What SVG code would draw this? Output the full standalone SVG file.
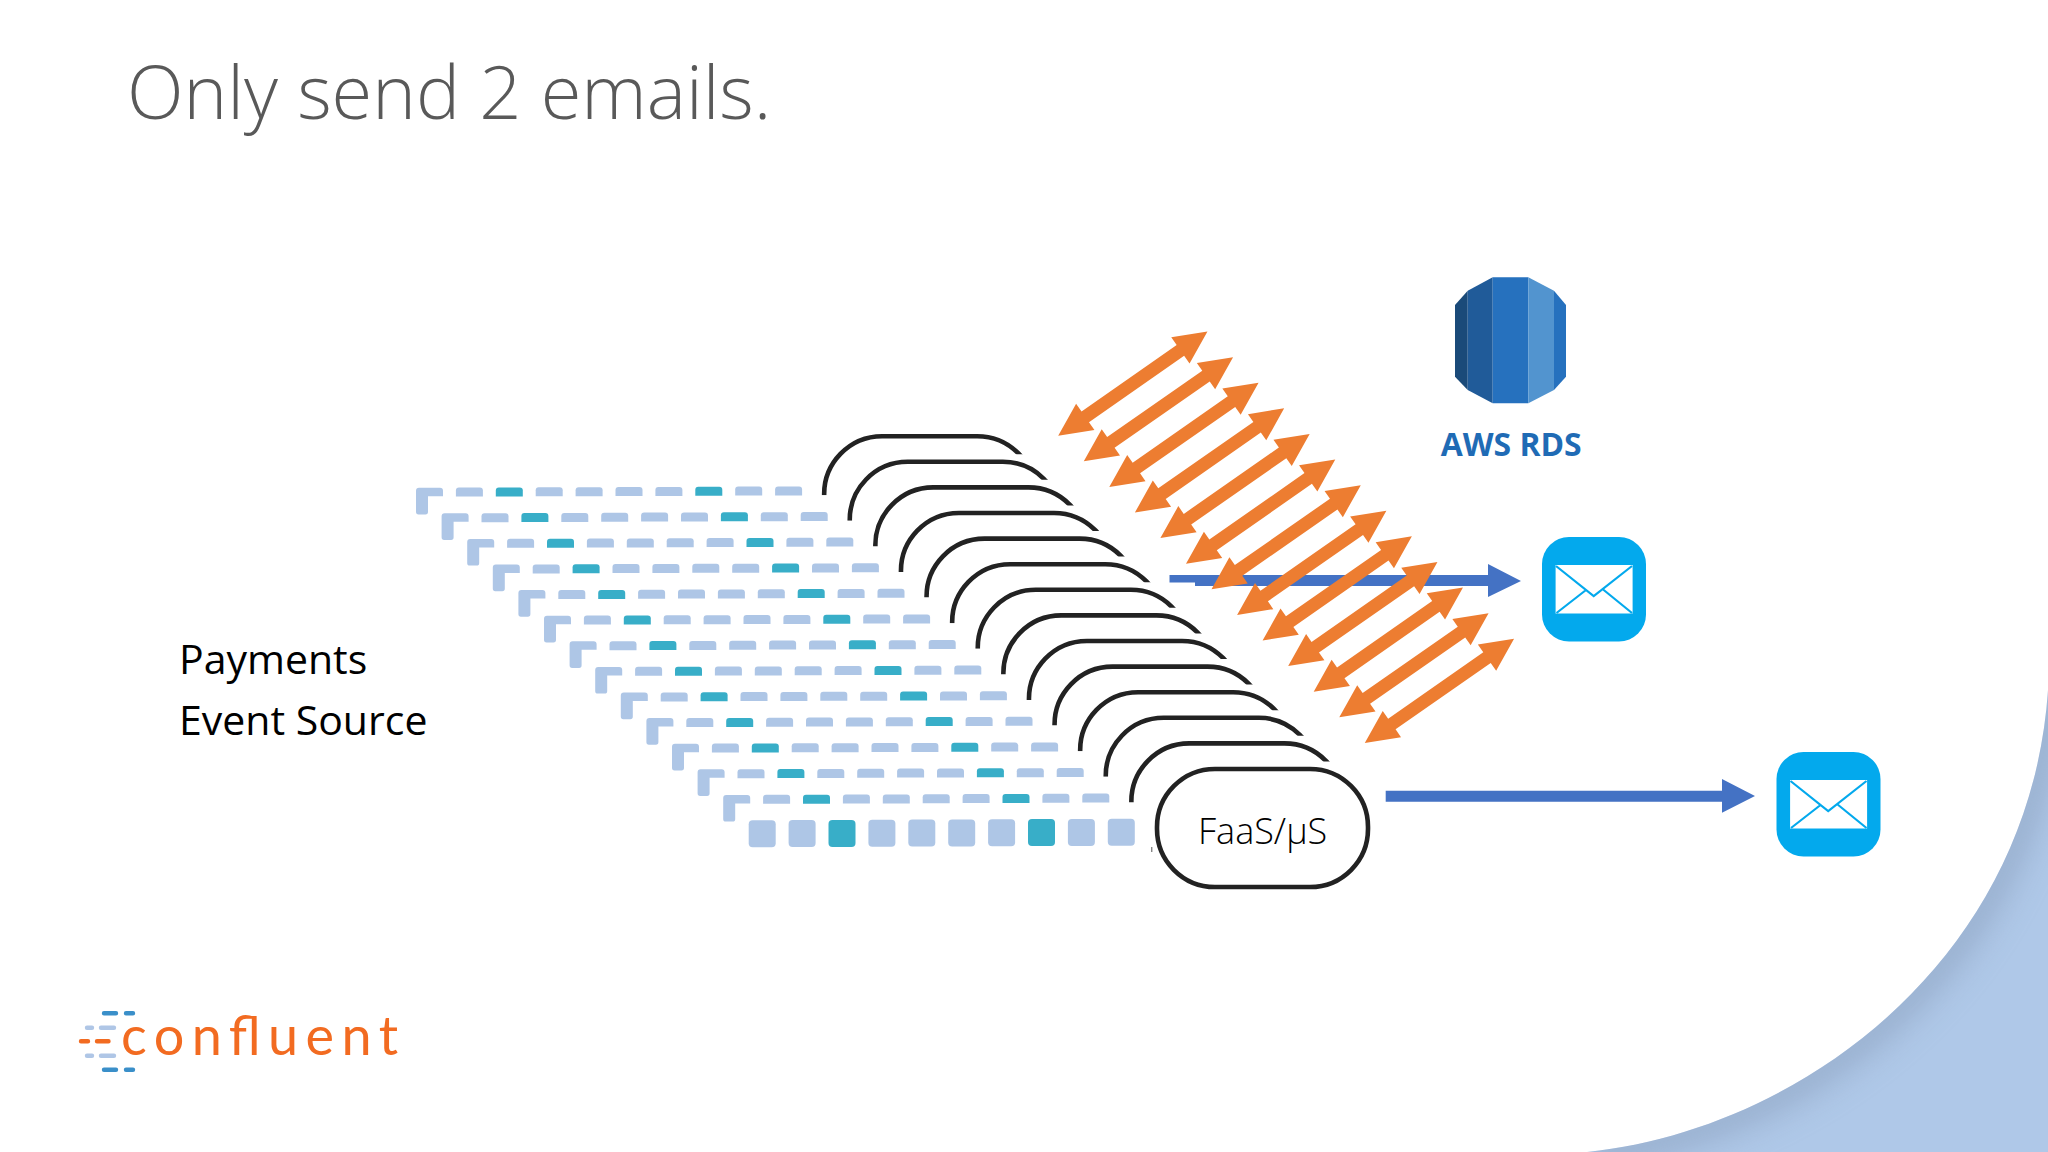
<svg xmlns="http://www.w3.org/2000/svg" xmlns:xlink="http://www.w3.org/1999/xlink" width="2048" height="1152" viewBox="0 0 2048 1152">
<style>
.t{fill:#AEC6E6}
.k{fill:#38AEC8}
.title{font-family:"Open Sans","Liberation Sans",sans-serif;font-weight:300;font-size:74px;fill:#595959}
.lbl{font-family:"Open Sans","Liberation Sans",sans-serif;font-size:41px;fill:#000}
.faas{font-family:"Open Sans","Liberation Sans",sans-serif;font-weight:300;font-size:36px;fill:#000}
.rds{font-family:"Open Sans","Liberation Sans",sans-serif;font-weight:700;font-size:33px;fill:#1F6BB5}
.cf{font-family:"Lato","Liberation Sans",sans-serif;font-size:54px;fill:#F26B21}
.arc{fill:none;stroke:#222;stroke-width:4.6}
.or{fill:#ED7D31}
.bl{fill:#4472C4}
.dash{stroke-width:4.4;stroke-linecap:round;fill:none}
</style>
<defs>
<filter id="blur" x="-20%" y="-20%" width="140%" height="140%"><feGaussianBlur stdDeviation="16"/></filter>
<clipPath id="cornerClip"><path d="M1587 1152C1800 1130 2030 960 2048 690V1152Z"/></clipPath>
<clipPath id="arcClip"><rect x="-5" y="-5" width="100" height="64"/><rect x="90" y="-5" width="130" height="23"/></clipPath>
<g id="arcShape" clip-path="url(#arcClip)"><path class="arc" d="M0 60A58 58 0 0 1 58 0H153A58 58 0 0 1 211 58"/></g>
<polygon id="dbl" class="or" points="0,0 33,-16 33,-6.5 149,-6.5 149,-16 182,0 149,16 149,6.5 33,6.5 33,16"/>
<path id="strip" d="M0 9V3Q0 0 3 0H24Q27 0 27 3V9Z"/>
<g id="row">
<path class="t" d="M0 24V3Q0 0 3 0H24Q27 0 27 3V8.5H12V24Q12 26.7 9.5 26.7H2.5Q0 26.7 0 24Z"/>
<use href="#strip" class="t" x="39.9" y="-0.1"/>
<use href="#strip" class="k" x="79.8" y="-0.2"/>
<use href="#strip" class="t" x="119.7" y="-0.4"/>
<use href="#strip" class="t" x="159.6" y="-0.5"/>
<use href="#strip" class="t" x="199.5" y="-0.7"/>
<use href="#strip" class="t" x="239.4" y="-0.8"/>
<use href="#strip" class="k" x="279.3" y="-1"/>
<use href="#strip" class="t" x="319.2" y="-1.1"/>
<use href="#strip" class="t" x="359.1" y="-1.3"/>
</g>
<g id="mail">
<rect width="104" height="104.5" rx="27" fill="#03A9ED"/>
<rect x="13.6" y="28" width="77" height="48.5" fill="#fff"/>
<path d="M14 29L51.7 59L90 29M14.500 76L44 53M90 76L60.500 52" fill="none" stroke="#03A9ED" stroke-width="2.200"/>
</g>
</defs>

<rect id="background" width="2048" height="1152" fill="#fff"/>
<g id="corner">
<path d="M1587 1152C1800 1130 2030 960 2048 690V1152Z" fill="#AFC8E8"/>
<g clip-path="url(#cornerClip)"><path d="M1587 1152C1800 1130 2030 960 2048 690" fill="none" stroke="#8296B4" stroke-width="34" opacity=".5" filter="url(#blur)"/></g>
</g>

<text id="title" class="title" x="127" y="119">Only send 2 emails.</text>

<g id="event-source"><text class="lbl" x="179" y="674">Payments</text><text class="lbl" x="179" y="735">Event Source</text></g>

<g id="event-rows">
<use href="#row" x="416" y="487.7"/><use href="#row" x="441.6" y="513.3"/><use href="#row" x="467.2" y="538.9"/><use href="#row" x="492.8" y="564.5"/><use href="#row" x="518.4" y="590.1"/><use href="#row" x="544" y="615.7"/><use href="#row" x="569.6" y="641.3"/><use href="#row" x="595.2" y="666.9"/><use href="#row" x="620.8" y="692.5"/><use href="#row" x="646.4" y="718.1"/><use href="#row" x="672" y="743.7"/><use href="#row" x="697.6" y="769.3"/><use href="#row" x="723.2" y="794.9"/>
<g id="front-row">
<rect class="t" x="748.700" y="820.200" width="27" height="27" rx="4"/><rect class="t" x="788.600" y="820" width="27" height="27" rx="4"/><rect class="k" x="828.500" y="819.900" width="27" height="27" rx="4"/><rect class="t" x="868.400" y="819.700" width="27" height="27" rx="4"/><rect class="t" x="908.300" y="819.600" width="27" height="27" rx="4"/><rect class="t" x="948.200" y="819.400" width="27" height="27" rx="4"/><rect class="t" x="988.100" y="819.300" width="27" height="27" rx="4"/><rect class="k" x="1028" y="819.100" width="27" height="27" rx="4"/><rect class="t" x="1067.900" y="819" width="27" height="27" rx="4"/><rect class="t" x="1107.800" y="818.800" width="27" height="27" rx="4"/>
</g>
</g>

<g id="faas-stack">
<use href="#arcShape" x="824.2" y="436.2"/><use href="#arcShape" x="849.8" y="461.8"/><use href="#arcShape" x="875.4" y="487.4"/><use href="#arcShape" x="901" y="513"/><use href="#arcShape" x="926.6" y="538.6"/><use href="#arcShape" x="952.2" y="564.2"/><use href="#arcShape" x="977.8" y="589.8"/><use href="#arcShape" x="1003.4" y="615.4"/><use href="#arcShape" x="1029" y="641"/><use href="#arcShape" x="1054.6" y="666.6"/><use href="#arcShape" x="1080.2" y="692.2"/><use href="#arcShape" x="1105.8" y="717.8"/><use href="#arcShape" x="1131.4" y="743.4"/>
</g>
<g id="faas">
<rect x="1157" y="769" width="211" height="118" rx="58" ry="58" fill="#fff" stroke="#222" stroke-width="4.600"/>
<path d="M1151.800 847V852" stroke="#555" stroke-width="1"/>
<text class="faas" x="1198" y="844">FaaS/µS</text>
</g>

<g id="connectors">
<path class="bl" d="M1169.500 575H1488V564L1521 581L1488 597V586H1195V582.500H1169.500Z"/>
<path class="bl" d="M1385.700 790.700H1722V779L1755 796L1722 812.700V801.700H1385.700Z"/>
<use href="#dbl" transform="translate(1058.2 435.7) rotate(-34.9)"/>
<use href="#dbl" transform="translate(1083.8 461.3) rotate(-34.9)"/>
<use href="#dbl" transform="translate(1109.3 486.9) rotate(-34.9)"/>
<use href="#dbl" transform="translate(1134.9 512.5) rotate(-34.9)"/>
<use href="#dbl" transform="translate(1160.4 538.1) rotate(-34.9)"/>
<use href="#dbl" transform="translate(1186 563.7) rotate(-34.9)"/>
<use href="#dbl" transform="translate(1211.5 589.3) rotate(-34.9)"/>
<use href="#dbl" transform="translate(1237.1 614.9) rotate(-34.9)"/>
<use href="#dbl" transform="translate(1262.6 640.5) rotate(-34.9)"/>
<use href="#dbl" transform="translate(1288.2 666.1) rotate(-34.9)"/>
<use href="#dbl" transform="translate(1313.7 691.7) rotate(-34.9)"/>
<use href="#dbl" transform="translate(1339.3 717.3) rotate(-34.9)"/>
<use href="#dbl" transform="translate(1364.8 742.9) rotate(-34.9)"/>
</g>

<g id="aws-rds">
<path d="M1455 305L1467.700 290.700V390L1455 376.700Z" fill="#1A4A79"/>
<path d="M1467.700 290.700L1492.700 277.300V403.300L1467.700 390Z" fill="#205B99"/>
<path d="M1492.700 277.300H1528.300V403.300H1492.700Z" fill="#2671BE"/>
<path d="M1528.300 277.300L1554 290.700V390L1528.300 403.300Z" fill="#5294CF"/>
<path d="M1554 290.700L1566 305V376.700L1554 390Z" fill="#2671BE"/>
<text class="rds" x="1440.700" y="456" textLength="141" lengthAdjust="spacingAndGlyphs">AWS RDS</text>
</g>

<use id="mail-1" href="#mail" x="1542" y="537"/>
<use id="mail-2" href="#mail" x="1776.500" y="752"/>

<g id="confluent-logo">
<path class="dash" stroke="#3A8FC9" d="M104 1013.300H116M126 1013.300H133M104 1069.700H116M126 1069.700H133"/>
<path class="dash" stroke="#AFC6E6" d="M87 1027.700H92M101 1027.700H114M87 1055.700H92M101 1055.700H114"/>
<path class="dash" stroke="#F26B21" d="M81 1041.300H88M97 1041.300H108.500"/>
<text class="cf" x="121" y="1055" textLength="277" lengthAdjust="spacing">confluent</text>
</g>
</svg>
